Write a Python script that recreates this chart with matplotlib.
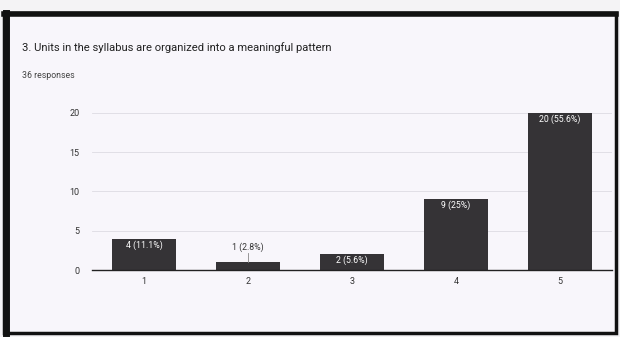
import matplotlib
matplotlib.use("Agg")
import matplotlib.pyplot as plt
from matplotlib.patches import Rectangle
from matplotlib.lines import Line2D

# === DATA ===
categories = ["1", "2", "3", "4", "5"]
counts = [4, 1, 2, 9, 20]
pct_labels = ["4 (11.1%)", "1 (2.8%)", "2 (5.6%)", "9 (25%)", "20 (55.6%)"]
y_ticks = [0, 5, 10, 15, 20]

title = "3. Units in the syllabus are organized into a meaningful pattern"
subtitle = "36 responses"

bg = "#f8f6fb"
bar_color = "#353336"

plt.rcParams['font.family'] = ['Roboto', 'DejaVu Sans']

fig = plt.figure(figsize=(6.2, 3.37), dpi=100)
fig.patch.set_facecolor("#f4f3f5")

# scanned black frame around the card
W, H = 620, 337
def px(x, y):
    return x / W, 1 - y / H

fig.patches.append(Rectangle(px(4, 333), 612 / W, 320 / H, transform=fig.transFigure,
                             facecolor=bg, edgecolor="#111111", linewidth=2.5, zorder=-2))
fig.lines.append(Line2D([6 / W, 6 / W], [1 - 333 / H, 1 - 13 / H], transform=fig.transFigure,
                        color="#111111", linewidth=5, zorder=-1))
fig.lines.append(Line2D([4 / W, 616 / W], [1 - 14 / H, 1 - 14 / H], transform=fig.transFigure,
                        color="#111111", linewidth=4, zorder=-1))

fig.text(22 / W, 1 - 48 / H, title, fontsize=8.1, color="#222222", va="center")
fig.text(22 / W, 1 - 75 / H, subtitle, fontsize=6.3, color="#444444", va="center")

ax = fig.add_axes([92 / W, 1 - 270 / H, 520 / W, 165 / H])
ax.set_facecolor("none")
x = list(range(1, len(categories) + 1))
ax.bar(x, counts, width=0.62, color=bar_color, zorder=3)
ax.set_xlim(0.5, 5.5)
ax.set_ylim(0, 21)

for xi, c, lab in zip(x, counts, pct_labels):
    if c >= 2:
        ax.text(xi, c - 0.8, lab, ha="center", va="center", color="white", fontsize=6.3, zorder=4)
    else:
        ax.plot([xi, xi], [c, c + 1.2], color="#888888", linewidth=0.6, zorder=4)
        ax.text(xi, c + 1.9, lab, ha="center", va="center", color="#333333", fontsize=6.3, zorder=4)

ax.set_yticks(y_ticks)
ax.set_xticks(x)
ax.set_xticklabels(categories)
ax.grid(axis="y", color="#dddbe2", linewidth=0.6, zorder=0)
ax.tick_params(axis="both", length=0, labelsize=6.5, colors="#333333")
ax.tick_params(axis="y", pad=9)
ax.tick_params(axis="x", pad=5)
for s in ["top", "right", "left"]:
    ax.spines[s].set_visible(False)
ax.spines["bottom"].set_color("#222222")
ax.spines["bottom"].set_linewidth(1.0)
ax.spines["bottom"].set_zorder(5)

fig.savefig("out.png", dpi=100, facecolor=fig.get_facecolor())
